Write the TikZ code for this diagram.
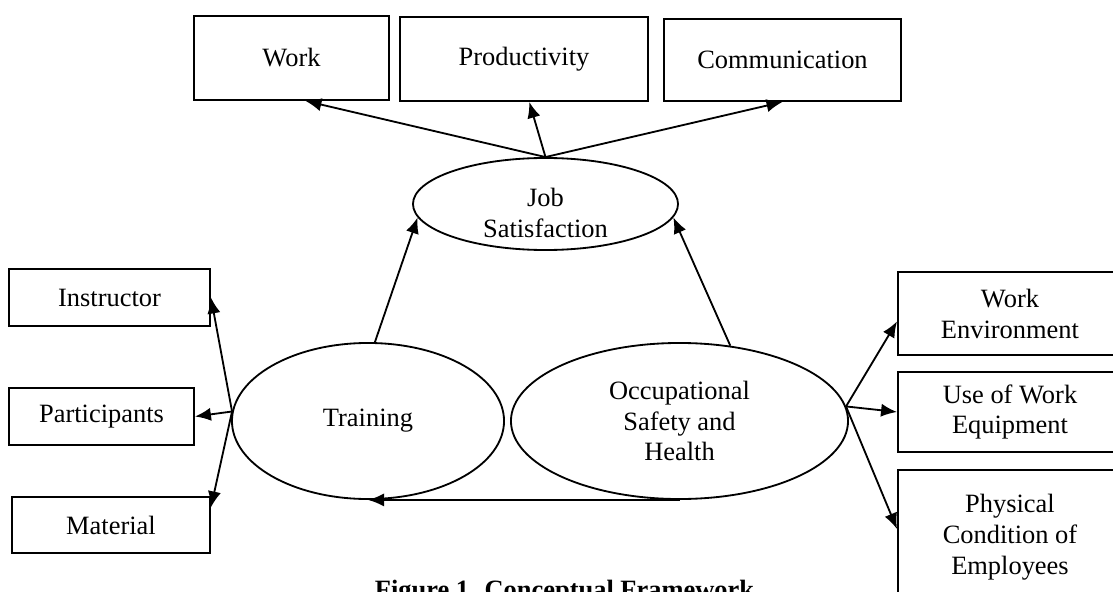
\documentclass[tikz,border=0pt]{standalone}
\usepackage{fontspec}
\setmainfont{Liberation Serif}
\usetikzlibrary{shapes.geometric,arrows.meta}

\begin{document}
\begin{tikzpicture}[x=0.025cm,y=-0.025cm,
        txt/.style={align=center,font=\fontsize{18.8}{22}\selectfont},
        box/.style={txt,draw,line width=1.3pt,inner sep=0pt},
        oval/.style={txt,draw,ellipse,line width=1.3pt,inner sep=0pt},
        link/.style={line width=1.3pt,-{Latex[length=4mm,width=3.3mm]}}]
    \path[use as bounding box] (0,0) rectangle (1113,592);
    \clip (0,0) rectangle (1113,592);
    % top row
    \node[box,minimum width=4.875cm,minimum height=2.1cm] (work) at (291.5,58) {Work};
    \node[box,minimum width=6.2cm,minimum height=2.1cm] (prod) at (524,59) {Productivity};
    \node[box,minimum width=5.925cm,minimum height=2.05cm] (comm) at (782.5,60) {Communication};
    % left column
    \node[box,minimum width=5.025cm,minimum height=1.425cm] (instr) at (109.5,297.5) {Instructor};
    \node[box,minimum width=4.625cm,minimum height=1.425cm] (part) at (101.5,416.5) {Participants};
    \node[box,minimum width=4.95cm,minimum height=1.4cm] (mat) at (111,525) {Material};
    % right column
    \node[box,minimum width=5.6cm,minimum height=2.075cm] (env) at (1010,313.5) {Work\\Environment};
    \node[box,minimum width=5.6cm,minimum height=2cm] (use) at (1010,412) {Use of Work\\Equipment};
    \node[box,minimum width=5.6cm,minimum height=3.35cm] (phys) at (1010,537) {Physical\\Condition of\\Employees};
    % the three ovals
    \node[oval,minimum width=6.625cm,minimum height=2.3cm] (js) at (545.5,204) {};
    \node[txt] (jstext) at (545.5,213) {Job\\Satisfaction};
    \node[oval,minimum width=6.8cm,minimum height=3.9cm] (tr) at (368,421) {Training};
    \node[oval,minimum width=8.425cm,minimum height=3.9cm] (osh) at (679.5,421) {Occupational\\Safety and\\Health};
    \draw[link] (js.north) -- (work.-72);
    \draw[link] (js.north) -- (prod.-83);
    \draw[link] (js.north) -- (comm.south);
    \draw[link] (tr.85) -- (js.186);
    \draw[link] (osh.56) -- (js.-6);
    \draw[link] (osh.south) -- (tr.south);
    \draw[link] (tr.176) -- (instr.east);
    \draw[link] (tr.176) -- (part.east);
    \draw[link] (tr.176) -- (mat.10);
    \draw[link] (osh.5) -- (env.184);
    \draw[link] (osh.5) -- (use.west);
    \draw[link] (osh.5) -- (phys.176);
    \node[txt,font=\fontsize{18.8}{22}\selectfont\bfseries,anchor=base west] (caption) at (370,598) {Figure 1. Conceptual Framework};
\end{tikzpicture}
\end{document}
